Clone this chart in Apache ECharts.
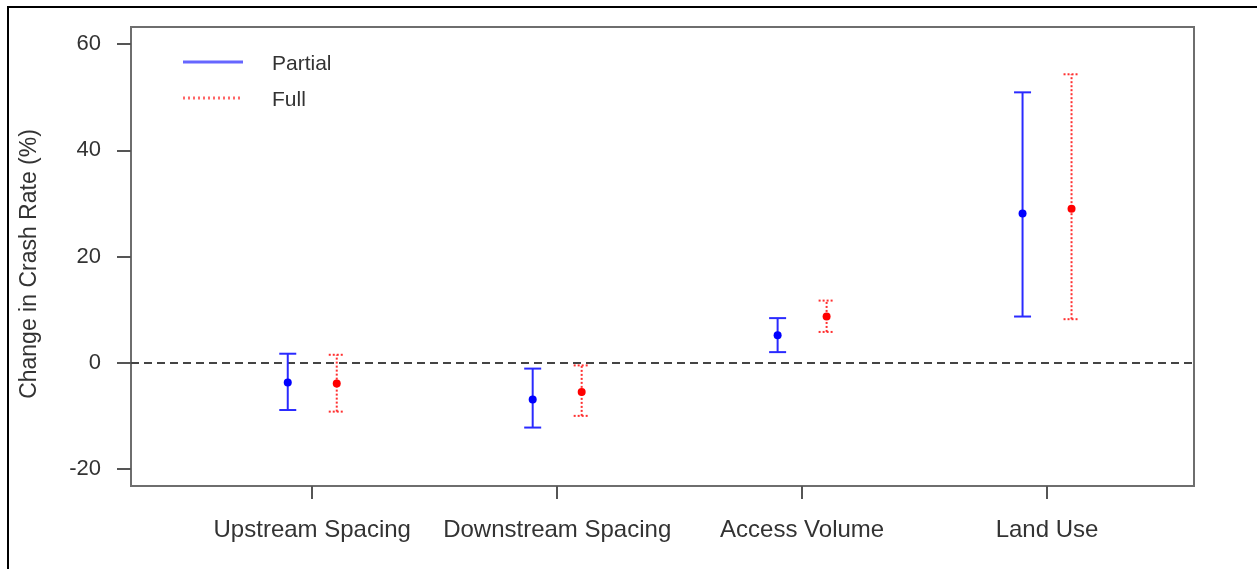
<!DOCTYPE html>
<html>
<head>
<meta charset="utf-8">
<script src="https://cdn.jsdelivr.net/npm/echarts@6/dist/echarts.min.js"></script>
<style>
html,body{margin:0;padding:0;background:#fff;}
#chart{width:1257px;height:569px;}
</style>
</head>
<body>
<div id="chart"></div>
<script>
const categories = ['Upstream Spacing', 'Downstream Spacing', 'Access Volume', 'Land Use'];
const partialMean = [-3.7, -6.9, 5.2, 28.1];
const partialLow  = [-8.9, -12.2, 2.0, 8.7];
const partialHigh = [1.7, -1.1, 8.4, 50.9];
const fullMean = [-3.9, -5.5, 8.7, 29.0];
const fullLow  = [-9.2, -10.0, 5.8, 8.2];
const fullHigh = [1.5, -0.5, 11.7, 54.3];
const yTicks = [-20, 0, 20, 40, 60];
const xTicks = [1, 2, 3, 4];
const legendNames = ['Partial', 'Full'];
const yTitle = 'Change in Crash Rate (%)';

const chart = echarts.init(document.getElementById('chart'), null, {renderer: 'canvas'});

function rows(mean, low, high) {
  return categories.map((c, i) => [i + 1, mean[i], low[i], high[i]]);
}

function makeRender(offset, color, dashed, capHalf) {
  return function (params, api) {
    const x = api.value(0) + offset;
    const pm = api.coord([x, api.value(1)]);
    const pl = api.coord([x, api.value(2)]);
    const ph = api.coord([x, api.value(3)]);
    const ls = {stroke: color, lineWidth: 2, lineDash: dashed ? [2, 2] : null};
    return {
      type: 'group',
      children: [
        {type: 'line', shape: {x1: pl[0], y1: pl[1], x2: ph[0], y2: ph[1]}, style: ls},
        {type: 'line', shape: {x1: ph[0] - capHalf, y1: ph[1], x2: ph[0] + capHalf, y2: ph[1]}, style: ls},
        {type: 'line', shape: {x1: pl[0] - capHalf, y1: pl[1], x2: pl[0] + capHalf, y2: pl[1]}, style: ls},
        {type: 'circle', shape: {cx: pm[0], cy: pm[1], r: 4}, style: {fill: dashed ? '#ff0000' : '#0000ff'}}
      ]
    };
  };
}

const option = {
  animation: false,
  backgroundColor: '#fff',
  textStyle: {fontFamily: 'Liberation Sans'},
  grid: {left: 131, right: 63, top: 27, bottom: 83, show: true, borderColor: '#6e6e6e', borderWidth: 2, backgroundColor: 'transparent'},
  xAxis: {
    type: 'value',
    min: 0.26,
    max: 4.6,
    splitLine: {show: false},
    axisLine: {show: false, onZero: false},
    axisTick: {show: true, length: 13, customValues: xTicks, lineStyle: {color: '#555', width: 2}},
    axisLabel: {
      customValues: xTicks,
      fontSize: 24,
      color: '#333',
      margin: 32,
      formatter: v => categories[Math.round(v) - 1] || ''
    }
  },
  yAxis: {
    type: 'value',
    min: -23.2,
    max: 63.2,
    splitLine: {show: false},
    axisLine: {show: false, onZero: false},
    axisTick: {show: true, length: 14, customValues: yTicks, lineStyle: {color: '#555', width: 2}},
    axisLabel: {customValues: yTicks, fontSize: 22, color: '#333', margin: 30}
  },
  series: [
    {
      name: 'zero', type: 'line', data: [], silent: true,
      markLine: {
        silent: true, symbol: 'none', label: {show: false},
        lineStyle: {color: '#444', width: 2, type: [8, 5]},
        data: [{yAxis: 0}]
      }
    },
    {
      name: 'Partial', type: 'custom', data: rows(partialMean, partialLow, partialHigh),
      renderItem: makeRender(-0.1, '#2a2aff', false, 8.5), encode: {x: 0, y: [1, 2, 3]}, z: 5
    },
    {
      name: 'Full', type: 'custom', data: rows(fullMean, fullLow, fullHigh),
      renderItem: makeRender(0.1, '#ff3030', true, 8), encode: {x: 0, y: [1, 2, 3]}, z: 5
    }
  ],
  graphic: [
    {type: 'polyline', shape: {points: [[8, 569], [8, 7], [1257, 7]]}, style: {stroke: '#000', lineWidth: 2, fill: null}, z: 10},
    {type: 'line', shape: {x1: 183, y1: 62, x2: 243, y2: 62}, style: {stroke: '#6666ff', lineWidth: 3}, z: 10},
    {type: 'line', shape: {x1: 183, y1: 98, x2: 243, y2: 98}, style: {stroke: '#ff6666', lineWidth: 3, lineDash: [2, 3]}, z: 10},
    {type: 'text', left: 272, top: 54, style: {text: legendNames[0], fontSize: 21, fill: '#333', fontFamily: 'Liberation Sans'}, z: 10},
    {type: 'text', left: 272, top: 90, style: {text: legendNames[1], fontSize: 21, fill: '#333', fontFamily: 'Liberation Sans'}, z: 10},
    {type: 'text', x: 30, y: 264, rotation: Math.PI / 2, style: {text: yTitle, fontSize: 23, fill: '#333', fontFamily: 'Liberation Sans', align: 'center', verticalAlign: 'middle'}, z: 10}
  ]
};
chart.setOption(option);
</script>
</body>
</html>
